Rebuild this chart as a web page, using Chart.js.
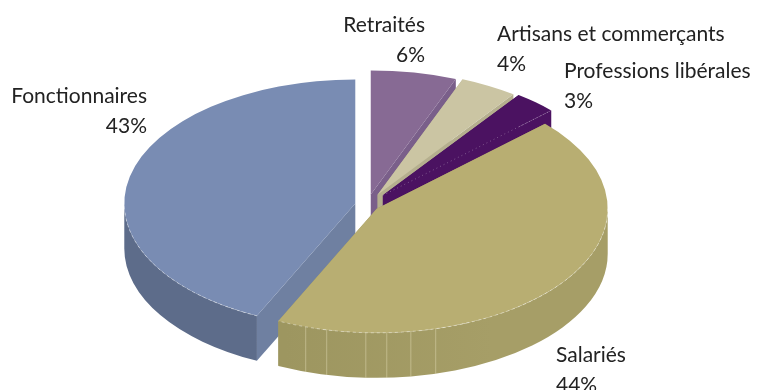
<!DOCTYPE html>
<html lang="fr">
<head>
<meta charset="utf-8">
<title>Répartition</title>
<script src="https://cdn.jsdelivr.net/npm/chart.js@4"></script>
<style>
  html, body { margin: 0; background: #fff; }
  #box { position: relative; width: 758px; height: 390px; overflow: hidden; }
</style>
</head>
<body>
<div id="box"><canvas id="pie" width="758" height="390"></canvas></div>
<script>
// Fonctionnaires comes first so that Salariés is painted over its cut face
const categories = ["Fonctionnaires", "Retraités", "Artisans et commerçants", "Professions libérales", "Salariés"];
const shares = [43, 6, 4, 3, 44];

const topColors = ["#798cb3", "#876a94", "#cbc5a3", "#4b1261", "#b8ae72"];
const wallColors = ["#5d6c8a", "#6f5680", "#aaa587", "#40104f", "#a69e67"];
const wallShades = ["#5d6c8a", "#6f5680", "#aaa587", "#40104f", "#9d9660"];
const cutColors = ["#6f80a1", "#7a5f8a", "#b5af8e", "#4b1261", "#9f9861"];
const slicePull = [12, 20, 22, 24, 12];

const pieTilt = 0.537;
const pieDepth = 45;

// seams on the side of Salariés, in degrees on the canvas circle
const wallSeams = [107.9, 102.5, 92.7, 87.5, 81.5, 75.2];

// [x, first baseline, alignment] of each label, same order as categories
const labelSpots = [
  [147, 103, "right"],
  [425, 32, "right"],
  [497, 41, "left"],
  [564, 78, "left"],
  [556, 362, "left"],
];

function sliceGeometry(arc, i) {
  const p = arc.getProps(["x", "y", "startAngle", "endAngle", "outerRadius"]);
  const mid = (p.startAngle + p.endAngle) / 2;
  return {
    dx: Math.cos(mid) * slicePull[i],
    dy: Math.sin(mid) * slicePull[i] * pieTilt,
    cx: p.x + Math.cos(mid) * slicePull[i],
    cy: p.y + Math.sin(mid) * slicePull[i] * pieTilt,
    start: p.startAngle,
    end: p.endAngle,
    r: p.outerRadius,
  };
}

function rimPoint(g, angle) {
  return [g.cx + Math.cos(angle) * g.r, g.cy + Math.sin(angle) * g.r * pieTilt];
}

function drawCutFace(ctx, g, angle, color) {
  const [tx, ty] = rimPoint(g, angle);
  ctx.fillStyle = color;
  ctx.beginPath();
  ctx.moveTo(g.cx, g.cy);
  ctx.lineTo(tx, ty);
  ctx.lineTo(tx, ty + pieDepth);
  ctx.lineTo(g.cx, g.cy + pieDepth);
  ctx.closePath();
  ctx.fill();
}

// only the part of the rim facing the viewer gets a side wall
function drawOuterWall(ctx, g, i) {
  [0, 2 * Math.PI].forEach((turn) => {
    const from = Math.max(g.start, turn);
    const to = Math.min(g.end, turn + Math.PI);
    if (to <= from) return;
    const shade = ctx.createLinearGradient(g.cx - g.r * 0.4, 0, g.cx + g.r * 0.5, 0);
    shade.addColorStop(0, wallShades[i]);
    shade.addColorStop(1, wallColors[i]);
    ctx.fillStyle = shade;
    ctx.beginPath();
    ctx.ellipse(g.cx, g.cy, g.r, g.r * pieTilt, 0, from, to);
    ctx.ellipse(g.cx, g.cy + pieDepth, g.r, g.r * pieTilt, 0, to, from, true);
    ctx.closePath();
    ctx.fill();
  });
}

function drawRimHighlight(ctx, g) {
  [0, 2 * Math.PI].forEach((turn) => {
    const from = Math.max(g.start, turn);
    const to = Math.min(g.end, turn + Math.PI);
    if (to <= from) return;
    ctx.strokeStyle = "rgba(255,255,255,0.4)";
    ctx.lineWidth = 1;
    ctx.setLineDash([3, 3]);
    ctx.beginPath();
    ctx.ellipse(g.cx, g.cy, g.r, g.r * pieTilt, 0, from, to);
    ctx.stroke();
    ctx.setLineDash([]);
  });
}

const pie3d = {
  id: "pie3d",
  // the arcs are flat circles, so they are painted here on a squashed canvas
  beforeDatasetDraw(chart, args) {
    const ctx = chart.ctx;
    args.meta.data.forEach((arc, i) => {
      const g = sliceGeometry(arc, i);
      drawCutFace(ctx, g, g.start, cutColors[i]);
      drawCutFace(ctx, g, g.end, cutColors[i]);
      drawOuterWall(ctx, g, i);

      if (categories[i] === "Salariés") {
        ctx.strokeStyle = "rgba(240,235,200,0.4)";
        ctx.lineWidth = 1;
        wallSeams.forEach((deg) => {
          const [sx, sy] = rimPoint(g, (deg * Math.PI) / 180);
          ctx.beginPath();
          ctx.moveTo(sx, sy);
          ctx.lineTo(sx, sy + pieDepth);
          ctx.stroke();
        });
      }

      ctx.save();
      ctx.translate(g.dx, arc.y + g.dy);
      ctx.scale(1, pieTilt);
      ctx.translate(0, -arc.y);
      arc.draw(ctx);
      ctx.restore();
      drawRimHighlight(ctx, g);

      if (categories[i] === "Professions libérales") {
        const [ex, ey] = rimPoint(g, g.end);
        ctx.strokeStyle = "rgba(255,255,255,0.3)";
        ctx.lineWidth = 1;
        ctx.setLineDash([1, 3]);
        ctx.beginPath();
        ctx.moveTo(g.cx, g.cy);
        ctx.lineTo(ex, ey);
        ctx.stroke();
        ctx.setLineDash([]);
      }
    });
    return false;
  },
  afterDraw(chart) {
    const ctx = chart.ctx;
    ctx.save();
    ctx.fillStyle = "#222";
    ctx.font = "21px Lato";
    categories.forEach((name, i) => {
      const [x, y, align] = labelSpots[i];
      ctx.textAlign = align;
      ctx.fillText(name, x, y);
      ctx.fillText(shares[i] + "%", x, y + 30);
    });
    ctx.restore();
  },
};

new Chart(document.getElementById("pie"), {
  type: "pie",
  data: {
    labels: categories,
    datasets: [
      {
        data: shares,
        backgroundColor: topColors,
        borderWidth: 0,
      },
    ],
  },
  options: {
    responsive: false,
    animation: false,
    events: [],
    rotation: 205.2,
    radius: 231,
    layout: { padding: { right: 24, top: 20 } },
    plugins: { legend: { display: false }, tooltip: { enabled: false } },
  },
  plugins: [pie3d],
});
</script>
</body>
</html>
